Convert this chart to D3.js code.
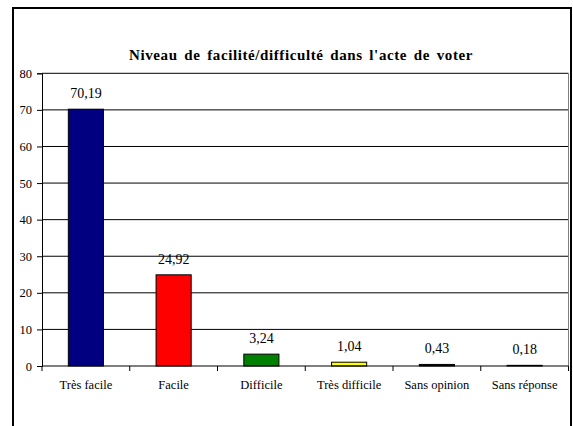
<!DOCTYPE html>
<html>
<head>
<meta charset="utf-8">
<script src="https://cdn.jsdelivr.net/npm/d3@7"></script>
</head>
<body style="margin:0">
<svg id="chart" width="573" height="426"></svg>
<script>
const title = "Niveau de facilité/difficulté dans l'acte de voter";
const categories = ["Très facile", "Facile", "Difficile", "Très difficile", "Sans opinion", "Sans réponse"];
const values = [70.19, 24.92, 3.24, 1.04, 0.43, 0.18];
const valueLabels = ["70,19", "24,92", "3,24", "1,04", "0,43", "0,18"];
const barColors = ["#000080", "#FF0000", "#008000", "#FFFF00", "#000000", "#000000"];
const yTicks = [0, 10, 20, 30, 40, 50, 60, 70, 80];

const FONT = "Liberation Serif";
const svg = d3.select("#chart");
const W = 573, H = 426;
const plot = { left: 42, right: 568.5, top: 73.3, bottom: 366 };

// chart-area frame (cut off at the bottom)
svg.append("line").attr("x1", 13).attr("x2", 13).attr("y1", 8).attr("y2", H)
  .attr("stroke", "#000").attr("stroke-width", 2);
svg.append("line").attr("x1", 12).attr("x2", 572).attr("y1", 8).attr("y2", 8)
  .attr("stroke", "#000").attr("stroke-width", 2);
svg.append("line").attr("x1", 571).attr("x2", 571).attr("y1", 7).attr("y2", H)
  .attr("stroke", "#000").attr("stroke-width", 2);

const x = d3.scaleBand().domain(categories).range([plot.left, plot.right]).paddingInner(0.6).paddingOuter(0.3);
const xOuter = d3.scaleBand().domain(categories).range([plot.left, plot.right]);
const y = d3.scaleLinear().domain([0, 80]).range([plot.bottom, plot.top]);

// gridlines
svg.append("g").selectAll("line").data(yTicks.filter(d => d > 0)).join("line")
  .attr("x1", plot.left).attr("x2", plot.right)
  .attr("y1", d => y(d)).attr("y2", d => y(d))
  .attr("stroke", "#000").attr("stroke-width", 1);
svg.append("line").attr("x1", plot.right).attr("x2", plot.right).attr("y1", plot.top).attr("y2", plot.bottom)
  .attr("stroke", "#808080").attr("stroke-width", 1);

// bars
svg.append("g").selectAll("rect").data(values).join("rect")
  .attr("x", (d, i) => x(categories[i]))
  .attr("width", x.bandwidth())
  .attr("y", d => y(d))
  .attr("height", d => y(0) - y(d))
  .attr("fill", (d, i) => barColors[i])
  .attr("stroke", "#000").attr("stroke-width", 1);

// value labels
svg.append("g").selectAll("text").data(values).join("text")
  .attr("x", (d, i) => x(categories[i]) + x.bandwidth() / 2)
  .attr("y", d => y(d) - 11)
  .attr("text-anchor", "middle")
  .style("font-family", FONT)
  .style("font-size", "14px")
  .text((d, i) => valueLabels[i]);

// y axis
const yAxis = d3.axisLeft(y).tickValues(yTicks).tickSize(5).tickPadding(5).tickFormat(d3.format("d"));
const gy = svg.append("g").attr("transform", `translate(${plot.left},0)`).call(yAxis);
gy.attr("font-family", FONT).attr("font-size", 12.5);
gy.select(".domain").attr("stroke", "#000");
gy.selectAll(".tick line").attr("stroke", "#000");
gy.selectAll(".tick text").style("font-family", FONT).style("font-size", "12.5px").attr("fill", "#000");

// x axis
const gx = svg.append("g").attr("transform", `translate(0,${plot.bottom})`);
gx.append("line").attr("x1", plot.left).attr("x2", plot.right).attr("y1", 0).attr("y2", 0).attr("stroke", "#000");
const boundaries = categories.map(c => xOuter(c)).concat([plot.right]);
gx.selectAll("line.tick").data(boundaries).join("line").attr("class", "tick")
  .attr("x1", d => d).attr("x2", d => d).attr("y1", 0).attr("y2", 5).attr("stroke", "#000");
gx.selectAll("text").data(categories).join("text")
  .attr("x", d => xOuter(d) + xOuter.bandwidth() / 2)
  .attr("y", 23)
  .attr("text-anchor", "middle")
  .style("font-family", FONT)
  .style("font-size", "12.5px")
  .text(d => d);

// title
const t = svg.append("text")
  .attr("x", 301).attr("y", 60)
  .attr("text-anchor", "middle")
  .style("font-family", FONT)
  .style("font-size", "15px").style("font-weight", "bold")
  .style("letter-spacing", "0.6px")
  .text(title);
const natural = t.node().getComputedTextLength();
const gaps = title.split(" ").length - 1;
t.style("word-spacing", Math.max(0, (344 - natural) / gaps) + "px");
</script>
</body>
</html>
